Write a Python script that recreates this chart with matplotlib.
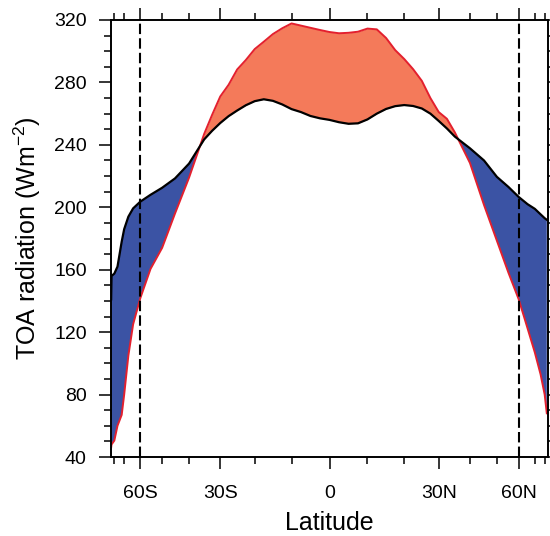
import numpy as np
import matplotlib
matplotlib.use('Agg')
import matplotlib.pyplot as plt

plt.rcParams['font.family'] = ['Liberation Sans', 'DejaVu Sans']

# latitude (deg) and TOA radiation (W m-2)
lat = [-88, -86, -80, -76, -72, -70, -67, -64, -60, -55, -50, -45, -40, -35,
       -32.5, -30, -27.5, -25, -22.5, -20, -17.5, -15, -12.5, -10, -7.5, -5,
       -2.5, 0, 2.5, 5, 7.5, 10, 12.5, 15, 17.5, 20, 22.5, 25, 27.5, 30,
       32.5, 35, 40, 45, 50, 55, 60, 65, 70, 75, 80, 84]
olr = [141, 156, 157.5, 162, 178, 186, 194, 199.3, 203.6, 208, 212.5, 218.5,
       228, 243.5, 249, 254, 258.4, 262, 265.4, 268, 269.2, 268.2, 265.9,
       262.9, 261, 258.5, 257, 256, 254.5, 253.5, 253.8, 256.3, 260, 263,
       264.8, 265.5, 264.9, 263.3, 260, 255.3, 250.5, 245.3, 237.8, 230,
       219.5, 213, 206.6, 202, 199, 195.5, 193, 192]
asr = [46, 48, 50.5, 60, 67, 80, 105, 125, 141.7, 160.5, 174, 196, 219, 247,
       259.2, 271, 278.5, 288.3, 294.4, 301.4, 306.1, 311, 314.7, 317.8,
       316.4, 315, 313.6, 312.3, 311.5, 311.8, 312.5, 314.5, 314, 308.5,
       300.7, 295, 288.5, 281, 270, 261, 256.7, 248, 228.4, 201.5, 178.6,
       158, 141, 122.5, 107, 93, 80, 68]

major_lat = [-60, -30, 0, 30, 60]
major_lab = ['60S', '30S', '0', '30N', '60N']
minor_lat = [-80, -70, -50, -40, -20, -10, 10, 20, 40, 50, 70, 80]

x = np.sin(np.radians(lat))
olr = np.array(olr)
asr = np.array(asr)

fig = plt.figure(figsize=(5.5, 5.36), dpi=100)
ax = fig.add_axes([111/550, 1-457/536, 437/550, 437/536])

ax.fill_between(x, olr, asr, where=asr >= olr, interpolate=True,
                color='#F47A5A', lw=0)
ax.fill_between(x, olr, asr, where=asr <= olr, interpolate=True,
                color='#3B53A4', lw=0)
ax.plot(x, asr, color='#E3202E', lw=1.4)
ax.plot(x, olr, color='black', lw=1.6)

for d in [-60, 60]:
    ax.axvline(np.sin(np.radians(d)), color='black', lw=1.5,
               linestyle=(0, (5, 2)))

ax.set_xlim(-1, 1)
ax.set_ylim(40, 320)
ax.set_xticks(np.sin(np.radians(major_lat)))
ax.set_xticklabels(major_lab)
ax.set_xticks(np.sin(np.radians(minor_lat)), minor=True)
ax.set_yticks(np.arange(40, 321, 40))
ax.set_yticks(np.arange(40, 321, 10), minor=True)

ax.tick_params(which='both', direction='out', top=True, right=True,
               width=1.1, labelsize=14)
ax.tick_params(which='major', length=8.5)
ax.tick_params(which='minor', length=5)
ax.tick_params(axis='x', pad=12)
ax.tick_params(axis='y', pad=9)
for s in ax.spines.values():
    s.set_linewidth(1.4)

ax.set_xlabel('Latitude', fontsize=18, labelpad=6)
ax.set_ylabel('TOA radiation (Wm$^{\\mathregular{-2}}$)', fontsize=18,
              labelpad=8)

fig.savefig('out.png', dpi=100)
